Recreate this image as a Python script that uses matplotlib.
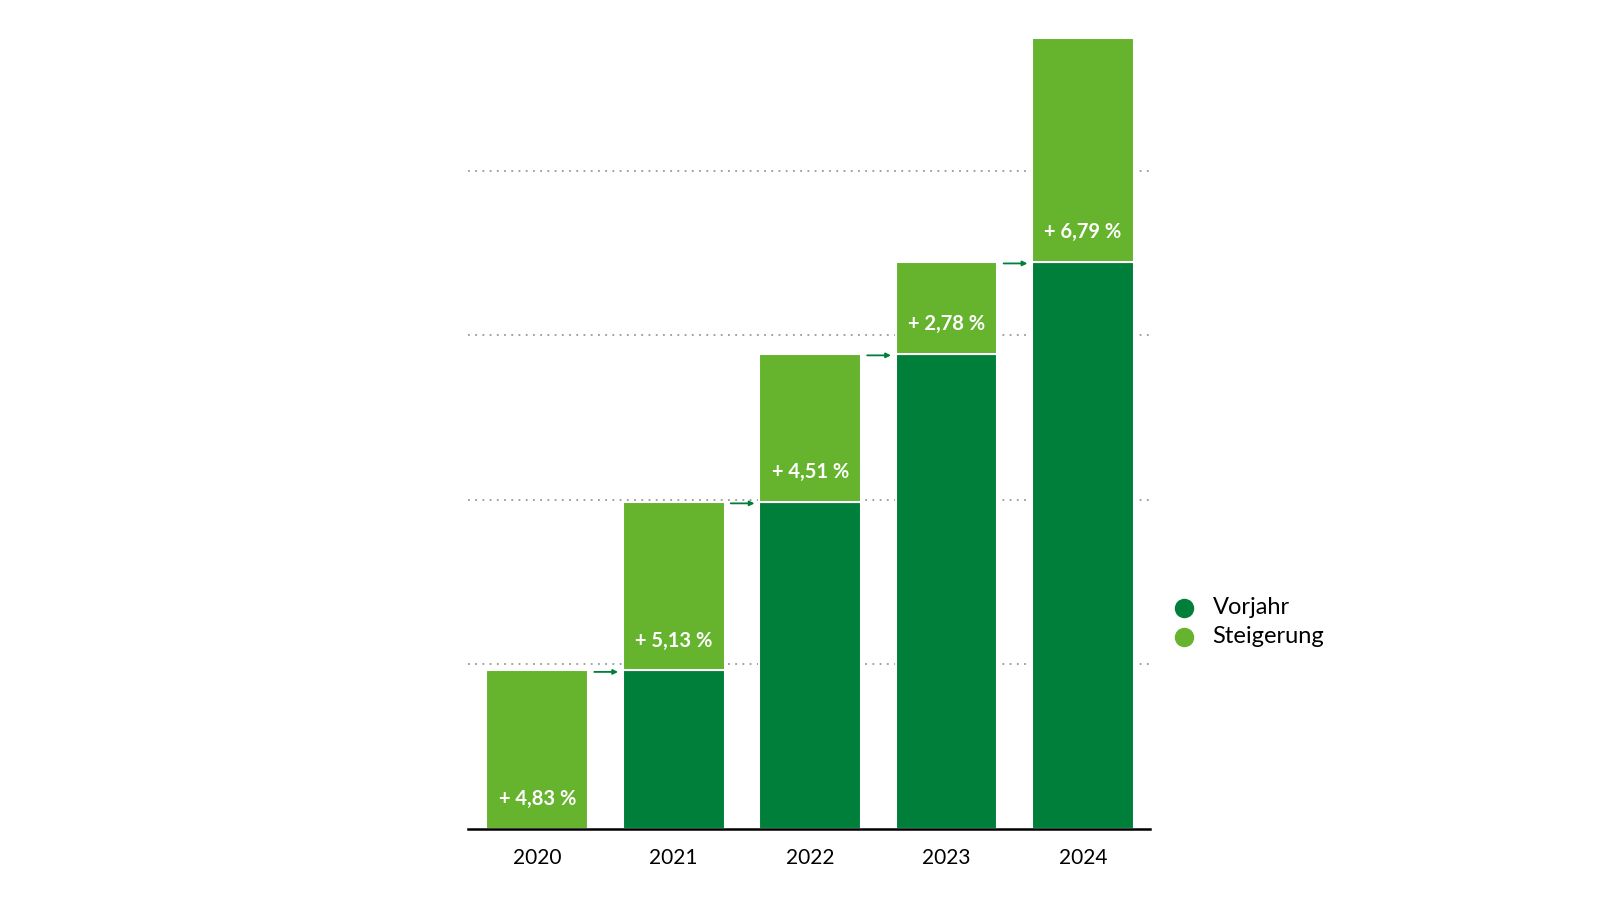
import numpy as np
import matplotlib.pyplot as plt
from matplotlib.lines import Line2D

plt.rcParams['font.family'] = ['Lato', 'DejaVu Sans']

years = ['2020', '2021', '2022', '2023', '2024']
vorjahr = [0.0, 0.963, 1.988, 2.888, 3.447]
steigerung = [0.963, 1.025, 0.900, 0.559, 1.360]
labels = ['+ 4,83 %', '+ 5,13 %', '+ 4,51 %', '+ 2,78 %', '+ 6,79 %']

dark = '#007f3a'
light = '#66b32e'

fig = plt.figure(figsize=(16, 9), dpi=100)
ax = fig.add_axes([0.2923, 0.0793, 0.4264, 0.888])

x = np.arange(len(years))
w = 0.745

for g in [1, 2, 3, 4]:
    ax.axhline(g, color='#999999', linestyle=(0, (1, 3)), linewidth=1.3, zorder=0)

ax.bar(x, vorjahr, w, color=dark, edgecolor='white', linewidth=1.5, zorder=2)
ax.bar(x, steigerung, w, bottom=vorjahr, color=light, edgecolor='white', linewidth=1.5, zorder=2)

for i in range(len(years)):
    ax.text(x[i], vorjahr[i] + 0.18, labels[i], color='white', ha='center', va='center',
            fontsize=14.5, fontweight='bold', zorder=3)

# Pfeile zum naechsten Jahr
for i in range(len(years) - 1):
    top = vorjahr[i] + steigerung[i]
    ax.annotate('', xy=(x[i + 1] - w / 2 - 0.015, top - 0.01), xytext=(x[i] + w / 2 + 0.025, top - 0.01),
                arrowprops=dict(arrowstyle='-|>', color=dark, lw=1.3, mutation_scale=7), zorder=3)

ax.set_xlim(-0.51, 4.49)
ax.set_ylim(0, 4.86)
ax.set_xticks(x)
ax.set_xticklabels(years, fontsize=15)
ax.set_yticks([])
ax.tick_params(axis='x', length=0, pad=14)
for s in ['top', 'right', 'left']:
    ax.spines[s].set_visible(False)
ax.spines['bottom'].set_linewidth(1.8)
ax.spines['bottom'].set_zorder(4)

# Legende
for yy, c, name in [(0.3245, dark, 'Vorjahr'), (0.2925, light, 'Steigerung')]:
    fig.add_artist(Line2D([0.7398], [yy], marker='o', markersize=13, color=c,
                          linestyle='none', transform=fig.transFigure))
    fig.text(0.7578, yy, name, fontsize=17, va='center')

fig.savefig('out.png', dpi=100)
